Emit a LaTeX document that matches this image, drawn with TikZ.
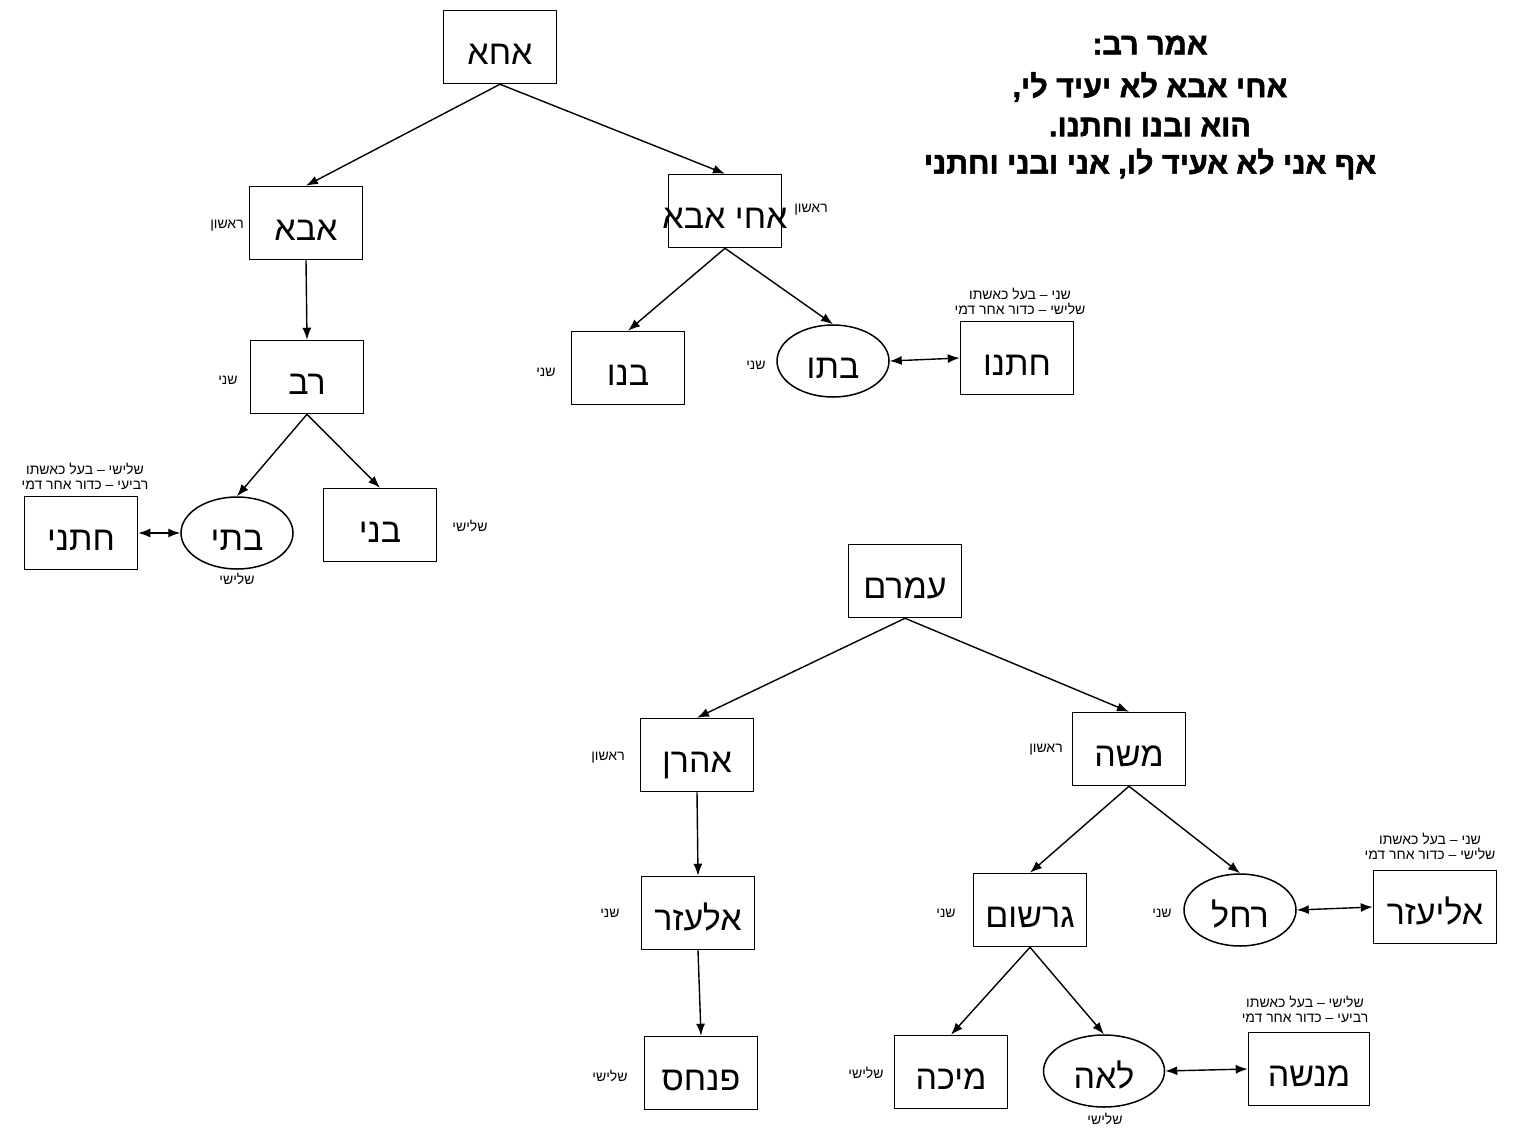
\documentclass[tikz,border=0pt]{standalone}
\usepackage{fontspec}
\setmainfont{Liberation Sans}
\newfontfamily\heb[Script=Hebrew]{Liberation Sans}
\newfontfamily\hebb[Script=Hebrew,FakeBold=1.8]{Liberation Sans Bold}
\TeXXeTstate=1
\usetikzlibrary{shapes.geometric,arrows.meta}
\newcommand\hb[1]{\beginR #1\endR}
\newcommand\bx[1]{\makebox[60pt]{\beginR #1\endR}}
\begin{document}
\begin{tikzpicture}[x=1pt,y=-1pt,
  every node/.style={inner sep=0pt},
  big/.style={font=\heb\fontsize{34}{40}\selectfont, text height=35pt, text depth=0pt},
  box/.style={draw, line width=1.5pt, minimum width=113pt, minimum height=73pt, big},
  ell/.style={ellipse, draw, line width=1.5pt, minimum width=112pt, minimum height=72pt, big},
  lab/.style={font=\heb\fontsize{14}{17}\selectfont},
  lab2/.style={font=\heb\fontsize{14}{17}\selectfont, align=center},
  arr/.style={line width=1.4pt, -{Latex[length=12pt,width=9pt]}},
  darr/.style={line width=1.4pt, {Latex[length=12pt,width=9pt]}-{Latex[length=12pt,width=9pt]}},
  title/.style={font=\hebb\fontsize{30.5}{34}\selectfont, align=center}
]
\useasboundingbox (0,0) rectangle (1517,1130);
\fill[white] (0,0) rectangle (1517,1130);

% title
\node[title] (t1) at (1150,45) {\hb{אמר רב:}};
\node[title] (t2) at (1150,87) {\hb{אחי אבא לא יעיד לי,}};
\node[title] (t3) at (1150,127) {\hb{הוא ובנו וחתנו.}};
\node[title] (t4) at (1150,164) {\hb{אף אני לא אעיד לו, אני ובני וחתני}};

% top tree
\node[box] (acha) at (500,47) {\bx{אחא}};
\node[box] (abba) at (306,223) {\bx{אבא}};
\node[box] (achiabba) at (725,211) {\bx{אחי אבא}};
\node[box] (rav) at (307,377) {\bx{רב}};
\node[box] (beno) at (628,368) {\bx{בנו}};
\node[ell] (bito) at (833,361) {\bx{בתו}};
\node[box] (chatno) at (1017,358) {\bx{חתנו}};
\node[box] (chatani) at (81,533) {\bx{חתני}};
\node[ell] (biti) at (237,533) {\bx{בתי}};
\node[box] (bni) at (380,525) {\bx{בני}};

\node[lab] (l1) at (227,226) {\hb{ראשון}};
\node[lab] (l2) at (811,210) {\hb{ראשון}};
\node[lab] (l3) at (228,380) {\hb{שני}};
\node[lab] (l4) at (546,372) {\hb{שני}};
\node[lab] (l5) at (756,365) {\hb{שני}};
\node[lab] (l6) at (470,526) {\hb{שלישי}};
\node[lab] (l7) at (237,579) {\hb{שלישי}};
\node[lab2] (l8) at (1020,301) {\hb{שני – בעל כאשתו}\\[-2pt]\hb{שלישי – כדור אחר דמי}};
\node[lab2] (l9) at (85,476) {\hb{שלישי – בעל כאשתו}\\[-2pt]\hb{רביעי – כדור אחר דמי}};

\draw[arr] (acha.south) -- (abba.north);
\draw[arr] (acha.south) -- (achiabba.north);
\draw[arr] (abba.south) -- (rav.north);
\draw[arr] (achiabba.south) -- (beno.north);
\draw[arr] (achiabba.south) -- (bito.north);
\draw[darr] (bito.east) -- (chatno.west);
\draw[arr] (rav.south) -- (biti.north);
\draw[arr] (rav.south) -- (bni.north);
\draw[darr] (chatani.east) -- (biti.west);

% bottom tree
\node[box] (amram) at (905,581) {\bx{עמרם}};
\node[box] (aharon) at (697,755) {\bx{אהרן}};
\node[box] (moshe) at (1129,749) {\bx{משה}};
\node[box] (elazar) at (698,913) {\bx{אלעזר}};
\node[box] (gershom) at (1030,910) {\bx{גרשום}};
\node[ell] (rachel) at (1240,910) {\bx{רחל}};
\node[box, minimum width=123pt] (eliezer) at (1435,907) {\bx{אליעזר}};
\node[box] (pinchas) at (701,1073) {\bx{פנחס}};
\node[box] (micha) at (951,1072) {\bx{מיכה}};
\node[ell, minimum width=121pt] (leah) at (1104,1071) {\bx{לאה}};
\node[box, minimum width=121pt] (menashe) at (1309,1069) {\bx{מנשה}};

\node[lab] (m1) at (608,758) {\hb{ראשון}};
\node[lab] (m2) at (1046,750) {\hb{ראשון}};
\node[lab] (m3) at (610,913) {\hb{שני}};
\node[lab] (m4) at (946,913) {\hb{שני}};
\node[lab] (m5) at (1162,913) {\hb{שני}};
\node[lab] (m6) at (610,1076) {\hb{שלישי}};
\node[lab] (m7) at (866,1073) {\hb{שלישי}};
\node[lab] (m8) at (1105,1119) {\hb{שלישי}};
\node[lab2] (m9) at (1430,846) {\hb{שני – בעל כאשתו}\\[-2pt]\hb{שלישי – כדור אחר דמי}};
\node[lab2] (m10) at (1305,1009) {\hb{שלישי – בעל כאשתו}\\[-2pt]\hb{רביעי – כדור אחר דמי}};

\draw[arr] (amram.south) -- (aharon.north);
\draw[arr] (amram.south) -- (moshe.north);
\draw[arr] (aharon.south) -- (elazar.north);
\draw[arr] (elazar.south) -- (pinchas.north);
\draw[arr] (moshe.south) -- (gershom.north);
\draw[arr] (moshe.south) -- (rachel.north);
\draw[darr] (rachel.east) -- (eliezer.west);
\draw[arr] (gershom.south) -- (micha.north);
\draw[arr] (gershom.south) -- (leah.north);
\draw[darr] (leah.east) -- (menashe.west);
\end{tikzpicture}
\end{document}
